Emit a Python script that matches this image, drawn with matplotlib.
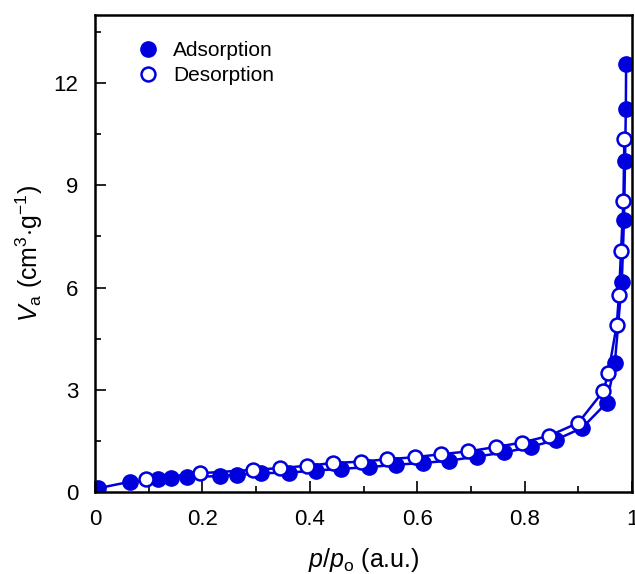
import matplotlib.pyplot as plt
from matplotlib.ticker import MultipleLocator

# Adsorption branch (filled circles)
ads_p = [0.006, 0.065, 0.118, 0.141, 0.171, 0.233, 0.264, 0.310, 0.362, 0.411,
         0.459, 0.511, 0.560, 0.610, 0.660, 0.711, 0.762, 0.811, 0.858, 0.907,
         0.953, 0.968, 0.981, 0.985, 0.987, 0.9885, 0.989]
ads_v = [0.11, 0.30, 0.37, 0.40, 0.43, 0.47, 0.50, 0.55, 0.57, 0.63,
         0.68, 0.73, 0.80, 0.85, 0.92, 1.04, 1.16, 1.32, 1.53, 1.88,
         2.62, 3.78, 6.16, 7.97, 9.71, 11.24, 12.55]

# Desorption branch (open circles)
des_p = [0.9857, 0.984, 0.9795, 0.9758, 0.9715, 0.956, 0.9466, 0.900, 0.846, 0.795,
         0.746, 0.695, 0.645, 0.595, 0.544, 0.495, 0.444, 0.395, 0.344, 0.295,
         0.196, 0.095]
des_v = [10.36, 8.53, 7.06, 5.79, 4.90, 3.50, 2.96, 2.03, 1.65, 1.45,
         1.32, 1.19, 1.11, 1.02, 0.96, 0.89, 0.85, 0.77, 0.70, 0.65,
         0.55, 0.38]

plt.rcParams['font.family'] = ['Liberation Sans', 'DejaVu Sans']
plt.rcParams['mathtext.fontset'] = 'custom'
plt.rcParams['mathtext.rm'] = 'Liberation Sans'
plt.rcParams['mathtext.it'] = 'Liberation Sans:italic'

blue = '#0000dd'

fig = plt.figure(figsize=(6.35, 5.74), dpi=100)
ax = fig.add_axes([0.1496, 0.1429, 0.8457, 0.831])

ax.plot(ads_p, ads_v, '-o', color=blue, lw=1.8, ms=11,
        mfc=blue, mec=blue, label='Adsorption')
ax.plot(des_p, des_v, '-o', color=blue, lw=1.8, ms=10, mew=1.8,
        mfc='white', mec=blue, label='Desorption')

ax.set_xlim(0, 1)
ax.set_ylim(0, 14)
ax.set_xticks([0, 0.2, 0.4, 0.6, 0.8, 1.0])
ax.set_xticklabels(['0', '0.2', '0.4', '0.6', '0.8', '1'])
ax.set_yticks([0, 3, 6, 9, 12])
ax.xaxis.set_minor_locator(MultipleLocator(0.1))
ax.yaxis.set_minor_locator(MultipleLocator(1.5))
ax.tick_params(which='both', direction='in', labelsize=16, width=1.2)
ax.tick_params(which='major', length=8)
ax.tick_params(which='minor', length=4)
ax.tick_params(axis='x', pad=12)
ax.tick_params(axis='y', pad=12)
for s in ax.spines.values():
    s.set_linewidth(1.8)

ax.set_xlabel(r'$p$/$p_\mathrm{o}$ (a.u.)', fontsize=18, labelpad=12)
ax.set_ylabel(r'$V_\mathrm{a}$ (cm$^3$$\cdot$g$^{-1}$)', fontsize=18, labelpad=6)

ax.legend(loc='upper left', bbox_to_anchor=(0.045, 0.985), frameon=False,
          fontsize=15, handlelength=1.0, handletextpad=0.7, labelspacing=0.3,
          numpoints=1)
leg = ax.get_legend()
for line in leg.get_lines():
    line.set_linestyle('none')

fig.savefig('out.png', dpi=100)
